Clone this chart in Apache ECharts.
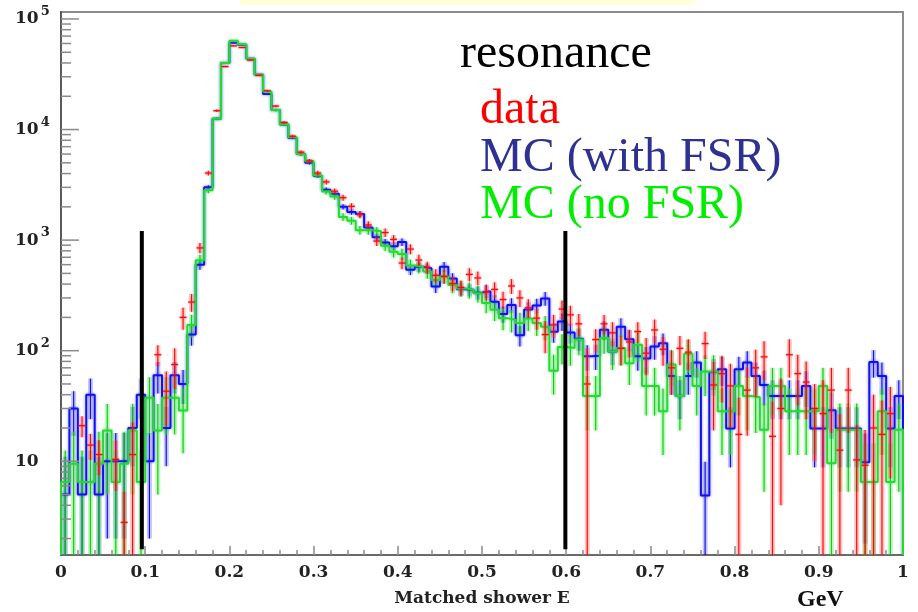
<!DOCTYPE html>
<html>
<head>
<meta charset="utf-8">
<script src="https://cdn.jsdelivr.net/npm/echarts@6/dist/echarts.min.js"></script>
<style>
  html, body { margin: 0; padding: 0; background: #ffffff; }
  #chart { width: 918px; height: 612px; }
</style>
</head>
<body>
<div id="chart"></div>
<script>
// Histogram binning of the matched shower energy (GeV)
const binLow = 0;
const binWidth = 0.01;

// Data: entries per bin (null = empty bin) and their errors
const dataCounts = [
  null, null, 21, 14, 11.5, null, 10.4, 2.8, 11.5, null,
  null, 92, 43, 75, 200, 275, 850, 4040, 14800, 37100,
  57100, 55200, 42500, 31000, 22400, 16300, 11600, 8700, 6240, 5200,
  4040, 3360, 2770, 2420, 2020, 1700, 1370, 980, 1170, 1015,
  620, 830, 660, 567, 480, 470, 405, 373, 490, 455,
  341, 358, 290, 385, 300, 245, 197, 140, 171, 238,
  211, 175, 50, 126, 175, 145, 105, 120, 149, 95,
  154, 103, 70, 105, 97, null, 116, 49, 62, 48,
  17.5, 44, 70, 88, 16.8, 30, 92, 62, 52, 30,
  27, 44, 12.6, 44, 10.3, 9.2, 20, 17.5, 27, null
];
const dataErr = [
  null, null, 4.5, 3.7, 4, null, 5, 2.5, 11, null,
  null, 20, 22, 30, 45, 50, 90, 190, 365, 580,
  720, 700, 620, 530, 450, 380, 320, 280, 237, 216,
  190, 174, 158, 148, 135, 124, 111, 94, 103, 96,
  75, 86, 77, 71, 66, 65, 60, 58, 66, 64,
  55, 57, 51, 59, 52, 47, 42, 45, 40, 46,
  44, 40, 55, 30, 35, 36, 31, 33, 32, 35,
  37, 30, 30, 31, 30, null, 32, 30, 28, 28,
  20, 27, 32, 34, 18, 26, 35, 30, 28, 20,
  27, 26, 14, 26, 11, 10, 20, 18, 20, null
];

// MC with final state radiation
const mcFsr = [
  5, 30, 5, 40, 5, 10, 10, 10, 20, 40,
  10, 60, 20, 60, 50, 140, 600, 3000, 12500, 40000,
  61000, 58500, 43600, 31300, 21000, 15000, 11100, 8400, 6000, 5000,
  3800, 2860, 2620, 2000, 1800, 1720, 1300, 1060, 950, 880,
  960, 540, 575, 556, 380, 575, 450, 360, 355, 335,
  345, 277, 215, 259, 138, 236, 256, 297, 148, 184,
  146, 128, 89, 90, 155, 98, 165, 127, 89, 85,
  109, 117, 59, 39, 59, 78, 4.9, 64, 68, 19.8,
  68, 78, 59, 49, 39, 39, 39, 39, 48, 19.8,
  19.8, 29, 19.8, 19.8, 19.8, 9.8, 79, 59, 19.8, 39
];
const mcFsrErr = [
  6, 13, 6, 16, 6, 8, 8, 8, 11, 16,
  8, 19, 11, 19, 17, 29, 60, 130, 270, 490,
  600, 590, 510, 430, 355, 300, 258, 225, 190, 173,
  150, 131, 125, 110, 104, 101, 88, 80, 75, 73,
  76, 57, 59, 58, 48, 59, 52, 46, 46, 45,
  45, 41, 36, 39, 29, 38, 39, 42, 30, 33,
  30, 28, 23, 23, 30, 24, 31, 28, 23, 23,
  26, 26, 19, 15, 19, 21, 5, 20, 20, 11,
  20, 21, 19, 17, 15, 15, 15, 15, 17, 11,
  11, 13, 11, 11, 11, 8, 22, 19, 11, 15
];

// MC without final state radiation
const mcNoFsr = [
  6.5, 9.5, 6.5, 6.5, 9.5, 19, 6.5, 9.5, 19, 6.5,
  37.5, 19, 37.5, 37.5, 28.8, 171, 656, 2830, 12500, 40000,
  63400, 59200, 43600, 31300, 22100, 15000, 11100, 8500, 6000, 5200,
  3850, 2750, 2480, 1620, 1500, 1230, 1230, 1200, 890, 785,
  750, 590, 575, 520, 435, 468, 393, 366, 355, 330,
  270, 234, 197, 190, 178, 195, 178, 165, 66, 108,
  106, 126, 39, 39, 130, 98, 106, 77, 113, 48,
  48, 28.4, 75, 39, 94, 48, 65, 65, 28.4, 28.4,
  48, 39, 38, 19.3, 48, 48, 28.4, 28.4, 28.4, 28.4,
  48, 9.6, 19.3, 19.3, 19.3, 6.5, 6.5, 28.4, 6.5, 19.3
];
const mcNoFsrErr = [
  6, 9, 6, 6, 9, 14, 6, 9, 14, 6,
  20, 14, 20, 20, 17, 40, 80, 170, 350, 630,
  800, 770, 660, 560, 470, 390, 330, 290, 245, 228,
  195, 165, 157, 127, 122, 110, 110, 110, 94, 89,
  87, 77, 76, 72, 66, 68, 63, 60, 60, 57,
  52, 48, 44, 44, 42, 44, 42, 41, 26, 33,
  33, 35, 20, 20, 36, 31, 33, 28, 34, 22,
  22, 17, 27, 20, 31, 22, 26, 26, 17, 17,
  22, 20, 20, 14, 22, 22, 17, 17, 17, 17,
  22, 10, 14, 14, 14, 8, 8, 17, 8, 14
];

// Axis ranges and tick marks
const xMin = 0, xMax = 1, xStep = 0.1;
const yMin = 1.42, yMax = 115600;
const yMajorTicks = [10, 100, 1000, 10000, 100000];
const yMinorTicks = [];
for (let d = 1; d <= 10000; d *= 10) {
  for (let m = 2; m <= 9; m++) {
    const t = m * d;
    if (t > yMin && t < yMax) yMinorTicks.push(t);
  }
}

// Selection cut positions (GeV) and their drawn span
const cutPositions = [0.096, 0.599];
const cutSpan = [1.6, 1210];

// Legend captions
const captions = [
  { text: 'resonance', color: '#000000', y: 54 },
  { text: 'data', color: '#ff0000', y: 110 },
  { text: 'MC (with FSR)', color: '#2e3192', y: 158 },
  { text: 'MC (no FSR)', color: '#00ee00', y: 205 }
];

// Outline of a histogram: edge points joined with horizontal-then-vertical steps
function stepPoints(values) {
  const n = values.length;
  const pts = [[binLow, yMin]];
  values.forEach((v, i) => pts.push([binLow + i * binWidth, v]));
  pts.push([binLow + n * binWidth, values[n - 1]]);
  pts.push([binLow + n * binWidth, yMin]);
  return pts;
}

function histLine(name, values, color, glow, z) {
  return {
    type: 'line', name, step: 'end', data: stepPoints(values),
    symbol: 'none', z, silent: true,
    lineStyle: { color, width: 2, shadowColor: glow, shadowBlur: 3 }
  };
}

function errorBars(name, values, errs, color, halo, cap, z) {
  const pts = [];
  values.forEach((v, i) => {
    if (v != null) pts.push([binLow + (i + 0.5) * binWidth, v, errs[i]]);
  });
  return {
    type: 'custom', name, z, silent: true,
    encode: { x: 0, y: 1 },
    data: pts,
    renderItem(params, api) {
      const x = api.value(0), v = api.value(1), e = api.value(2);
      const lo = Math.max(v - e, yMin), hi = Math.min(v + e, yMax);
      const a = api.coord([x, lo]), b = api.coord([x, hi]), c = api.coord([x, v]);
      const children = [
        { type: 'line', shape: { x1: a[0], y1: a[1], x2: b[0], y2: b[1] }, style: { stroke: halo, lineWidth: 5 } },
        { type: 'line', shape: { x1: a[0], y1: a[1], x2: b[0], y2: b[1] }, style: { stroke: color, lineWidth: 1.2 } }
      ];
      if (cap) {
        children.push({ type: 'line', shape: { x1: c[0] - cap, y1: c[1], x2: c[0] + cap, y2: c[1] }, style: { stroke: halo, lineWidth: 3 } });
        children.push({ type: 'line', shape: { x1: c[0] - cap, y1: c[1], x2: c[0] + cap, y2: c[1] }, style: { stroke: color, lineWidth: 1.2 } });
      }
      return { type: 'group', children };
    }
  };
}

// Log-axis ticks drawn inward from the left axis
const yTickSeries = {
  type: 'custom', name: 'yTicks', z: 10, silent: true,
  encode: { x: 0, y: 1 },
  data: yMajorTicks.map(v => [xMin, v, 18]).concat(yMinorTicks.map(v => [xMin, v, 10])),
  renderItem(params, api) {
    const p = api.coord([api.value(0), api.value(1)]);
    const len = api.value(2);
    return { type: 'line', shape: { x1: p[0], y1: p[1], x2: p[0] + len, y2: p[1] }, style: { stroke: '#8a8a8a', lineWidth: 1.5 } };
  }
};

const cutSeries = {
  type: 'custom', name: 'cuts', z: 20, silent: true,
  encode: { x: 0, y: 1 },
  data: cutPositions.map(x => [x, cutSpan[0], cutSpan[1]]),
  renderItem(params, api) {
    const a = api.coord([api.value(0), api.value(1)]);
    const b = api.coord([api.value(0), api.value(2)]);
    return { type: 'line', shape: { x1: a[0], y1: a[1], x2: b[0], y2: b[1] }, style: { stroke: '#000000', lineWidth: 4 } };
  }
};

const serifBold = 'DejaVu Serif';

const option = {
  animation: false,
  backgroundColor: '#ffffff',
  grid: { left: 61, right: 15, top: 12, bottom: 56, show: true, borderColor: '#8c8c8c', borderWidth: 2, backgroundColor: 'transparent' },
  xAxis: {
    type: 'value', min: xMin, max: xMax, interval: xStep,
    name: 'Matched shower E', nameLocation: 'middle', nameGap: 35,
    nameTextStyle: { fontFamily: serifBold, fontWeight: 'bold', fontSize: 17, color: '#222' },
    axisLine: { show: true, lineStyle: { color: '#6a6a6a', width: 2 } },
    axisTick: { show: true, inside: true, length: 9, lineStyle: { color: '#8a8a8a', width: 1.5 } },
    minorTick: { show: true, splitNumber: 5, length: 5, lineStyle: { color: '#8a8a8a', width: 1.5 } },
    splitLine: { show: false },
    axisLabel: {
      margin: 9, fontFamily: serifBold, fontWeight: 'bold', fontSize: 17, color: '#222',
      formatter: v => (Math.abs(v) < 1e-9 ? '0' : Math.abs(v - 1) < 1e-9 ? '1' : v.toFixed(1))
    }
  },
  yAxis: {
    type: 'log', logBase: 10, min: yMin, max: yMax,
    axisLine: { show: true, lineStyle: { color: '#5a5a5a', width: 2 } },
    axisTick: { show: false },
    splitLine: { show: false },
    axisLabel: {
      align: 'left', margin: 46,
      formatter: v => {
        const e = Math.log10(v), r = Math.round(e);
        if (Math.abs(e - r) > 1e-6 || r < 1) return '';
        return r === 1 ? '{b|10}' : '{b|10}{s|' + r + '}';
      },
      rich: {
        b: { fontFamily: serifBold, fontWeight: 'bold', fontSize: 17, color: '#222' },
        s: { fontFamily: serifBold, fontWeight: 'bold', fontSize: 13, color: '#222', padding: [0, 0, 14, 2] }
      }
    }
  },
  graphic: [
    { type: 'rect', shape: { x: 240, y: 0, width: 455, height: 5 }, style: { fill: '#ffffd8' }, silent: true },
    ...captions.map((c, i) => ({
      type: 'text', x: i === 0 ? 460 : 480, y: c.y, silent: true,
      style: { text: c.text, font: '48px "Liberation Serif"', fill: c.color, textAlign: 'left', textVerticalAlign: 'middle', align: 'left', verticalAlign: 'middle' }
    })),
    {
      type: 'text', x: 797, y: 600, silent: true,
      style: { text: 'GeV', font: 'bold 24px "Liberation Serif"', fill: '#111', textAlign: 'left', textVerticalAlign: 'middle', align: 'left', verticalAlign: 'middle' }
    }
  ],
  series: [
    errorBars('MC (with FSR) errors', mcFsr, mcFsrErr, 'rgba(0,0,230,0.9)', 'rgba(60,60,255,0.3)', 0, 2),
    errorBars('MC (no FSR) errors', mcNoFsr, mcNoFsrErr, 'rgba(0,200,0,0.9)', 'rgba(40,230,40,0.3)', 0, 3),
    histLine('MC (with FSR)', mcFsr, '#1010ee', 'rgba(40,40,255,0.6)', 4),
    histLine('MC (no FSR)', mcNoFsr, '#22dd22', 'rgba(30,200,120,0.6)', 5),
    errorBars('data', dataCounts, dataErr, 'rgba(255,0,0,0.95)', 'rgba(255,60,60,0.3)', 3.5, 6),
    cutSeries,
    yTickSeries
  ]
};

const chart = echarts.init(document.getElementById('chart'));
chart.setOption(option);
</script>
</body>
</html>
